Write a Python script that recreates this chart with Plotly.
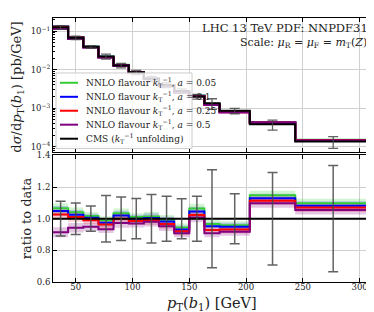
import plotly.graph_objects as go

# ---------------- data ----------------
bin_edges = [30, 43.3, 56.7, 70, 83.3, 96.7, 110, 123.3, 136.7, 150, 163.3, 176.7, 203.3, 243.3, 310]
bin_centers = [36.7, 50.0, 63.3, 76.7, 90.0, 103.3, 116.7, 130.0, 143.3, 156.7, 170.0, 190.0, 223.3, 276.7]

cms_xsec = [0.125, 0.067, 0.039, 0.022, 0.0128, 0.0085, 0.0058, 0.0040, 0.0028,
            0.0020, 0.00134, 0.00085, 0.00038, 0.000136]
cms_relerr = [0.11, 0.10, 0.08, 0.147, 0.137, 0.127, 0.153, 0.142, 0.126,
              0.142, 0.31, 0.158, 0.292, 0.336]

ratio_a005 = [1.066, 1.041, 1.017, 0.990, 1.035, 1.010, 1.014, 0.994, 0.945, 1.064, 0.967, 0.959, 1.148, 1.098]
ratio_a01  = [1.048, 1.025, 1.006, 0.975, 1.020, 1.000, 1.004, 0.982, 0.932, 1.045, 0.953, 0.949, 1.130, 1.082]
ratio_a025 = [1.026, 1.010, 0.990, 0.963, 1.000, 0.986, 0.990, 0.967, 0.920, 1.024, 0.928, 0.932, 1.114, 1.070]
ratio_a05  = [0.914, 0.943, 0.949, 0.934, 0.973, 0.969, 0.980, 0.953, 0.908, 1.008, 0.908, 0.918, 1.097, 1.055]
scale_unc  = [0.032, 0.03, 0.025, 0.025, 0.03, 0.025, 0.03, 0.03, 0.025, 0.03, 0.025, 0.025, 0.028, 0.028]

series_names = [
    "NNLO flavour <i>k</i><sub>T</sub><sup>−1</sup>, <i>a</i> = 0.05",
    "NNLO flavour <i>k</i><sub>T</sub><sup>−1</sup>, <i>a</i> = 0.1",
    "NNLO flavour <i>k</i><sub>T</sub><sup>−1</sup>, <i>a</i> = 0.25",
    "NNLO flavour <i>k</i><sub>T</sub><sup>−1</sup>, <i>a</i> = 0.5",
]
series_ratios = [ratio_a005, ratio_a01, ratio_a025, ratio_a05]
series_colors = ["#33cc33", "#0000ff", "#ff0000", "#800080"]
series_fill = ["rgba(51,204,51,0.22)", "rgba(0,0,255,0.18)", "rgba(255,0,0,0.18)", "rgba(128,0,128,0.22)"]
cms_name = "CMS (<i>k</i><sub>T</sub><sup>−1</sup> unfolding)"

FONT = "DejaVu Serif"
W, H = 374, 312
ML, MR, MT, MB = 45, 11, 5, 38


def step(vals):
    return list(vals) + [vals[-1]]


fig = go.Figure()

# ---------------- top panel ----------------
for name, rat, col in zip(series_names, series_ratios, series_colors):
    theo = [d * r for d, r in zip(cms_xsec, rat)]
    fig.add_trace(go.Scatter(x=bin_edges, y=step(theo), mode="lines", line_shape="hv",
                             line=dict(color=col, width=2.2), name=name,
                             xaxis="x", yaxis="y", showlegend=False))
fig.add_trace(go.Scatter(x=bin_edges, y=step(cms_xsec), mode="lines", line_shape="hv",
                         line=dict(color="black", width=2), name=cms_name,
                         xaxis="x", yaxis="y", showlegend=False))
fig.add_trace(go.Scatter(x=bin_centers, y=cms_xsec, mode="markers",
                         marker=dict(size=0.1, color="rgba(0,0,0,0)"),
                         error_y=dict(type="data", array=[v * e for v, e in zip(cms_xsec, cms_relerr)],
                                      color="rgba(70,70,70,0.85)", thickness=1.3, width=5),
                         xaxis="x", yaxis="y", showlegend=False))

# ---------------- ratio panel ----------------
for rat, col, fc in zip(series_ratios, series_colors, series_fill):
    lo = [r - u for r, u in zip(rat, scale_unc)]
    hi = [r + u for r, u in zip(rat, scale_unc)]
    fig.add_trace(go.Scatter(x=bin_edges, y=step(lo), mode="lines", line_shape="hv",
                             line=dict(width=0, color=fc), xaxis="x2", yaxis="y2", showlegend=False))
    fig.add_trace(go.Scatter(x=bin_edges, y=step(hi), mode="lines", line_shape="hv",
                             line=dict(width=0, color=fc), fill="tonexty", fillcolor=fc,
                             xaxis="x2", yaxis="y2", showlegend=False))
for rat, col in zip(series_ratios, series_colors):
    fig.add_trace(go.Scatter(x=bin_edges, y=step(rat), mode="lines", line_shape="hv",
                             line=dict(color=col, width=2), xaxis="x2", yaxis="y2", showlegend=False))
fig.add_trace(go.Scatter(x=[bin_edges[0], bin_edges[-1]], y=[1, 1], mode="lines",
                         line=dict(color="black", width=2), xaxis="x2", yaxis="y2", showlegend=False))
fig.add_trace(go.Scatter(x=bin_centers, y=[1] * len(bin_centers), mode="markers",
                         marker=dict(size=0.1, color="rgba(0,0,0,0)"),
                         error_y=dict(type="data", array=cms_relerr,
                                      color="rgba(70,70,70,0.85)", thickness=1.5, width=5),
                         xaxis="x2", yaxis="y2", showlegend=False))

# ---------------- layout ----------------
ph = H - MT - MB
pw = W - ML - MR
top_bottom = (H - MB - 142) / ph
bot_top = (H - MB - 145) / ph

axis_common = dict(showline=True, linecolor="black", linewidth=1, mirror="allticks",
                   ticks="inside", ticklen=4, tickcolor="black", tickwidth=1,
                   showgrid=True, gridcolor="#d0d0d0", gridwidth=1, zeroline=False,
                   tickfont=dict(family=FONT, size=8.5, color="#222"))

fig.update_layout(
    width=W, height=H, autosize=False,
    margin=dict(l=ML, r=MR, t=MT, b=MB),
    paper_bgcolor="white", plot_bgcolor="white",
    font=dict(family=FONT, color="black"),
    showlegend=False,
    xaxis=dict(axis_common, domain=[0, 1], range=[30, 310], anchor="y",
               tickvals=[50, 100, 150, 200, 250, 300], showticklabels=False),
    yaxis=dict(axis_common, domain=[top_bottom, 1], type="log", range=[-4.15, -0.66], anchor="x",
               tickvals=[1e-4, 1e-3, 1e-2, 1e-1],
               ticktext=["10<sup>−4</sup>", "10<sup>−3</sup>", "10<sup>−2</sup>", "10<sup>−1</sup>"],
               minor=dict(ticks="inside", ticklen=2, tickcolor="black", showgrid=False,
                          tickvals=[k * 10 ** e for e in range(-5, 0) for k in range(2, 10)])),
    xaxis2=dict(axis_common, domain=[0, 1], range=[30, 310], anchor="y2", matches="x",
                tickvals=[50, 100, 150, 200, 250, 300], ticklabelstandoff=-3),
    yaxis2=dict(axis_common, domain=[0, bot_top], range=[0.6, 1.4], anchor="x2",
                tickvals=[0.6, 0.8, 1.0, 1.2, 1.4], ticktext=["0.6", "0.8", "1.0", "1.2", "1.4"]),
)


def px_x(p):
    return (p - ML) / pw


def px_y(p):
    return (H - MB - p) / ph


# ---------------- legend (drawn by hand for compact rows) ----------------
legend_labels = series_names + [cms_name]
legend_colors = series_colors + ["black"]
row_y = [71, 85.3, 99.5, 113.7, 128]
shapes = [dict(type="rect", xref="paper", yref="paper", layer="above",
               x0=px_x(48), x1=px_x(184), y0=px_y(138), y1=px_y(61),
               fillcolor="rgba(255,255,255,0.82)", line=dict(color="#cccccc", width=1))]
annotations = []
for lab, col, yy in zip(legend_labels, legend_colors, row_y):
    shapes.append(dict(type="line", xref="paper", yref="paper", layer="above",
                       x0=px_x(52), x1=px_x(70), y0=px_y(yy), y1=px_y(yy),
                       line=dict(color=col, width=2)))
    annotations.append(dict(text=lab, x=px_x(76), y=px_y(yy), xanchor="left", yanchor="middle",
                            font=dict(family=FONT, size=9, color="#222")))

annotations += [
    dict(text="LHC 13 TeV PDF: NNPDF31", x=px_x(362), y=px_y(15), xanchor="right", yanchor="middle",
         font=dict(family=FONT, size=11.5, color="#222")),
    dict(text="Scale: <i>μ</i><sub>R</sub> = <i>μ</i><sub>F</sub> = <i>m</i><sub>T</sub>(<i>Z</i>)",
         x=px_x(361), y=px_y(30), xanchor="right", yanchor="middle",
         font=dict(family=FONT, size=11, color="#222")),
    dict(text="d<i>σ</i>/d<i>p</i><sub>T</sub>(<i>b</i><sub>1</sub>) [pb/GeV]", textangle=-90,
         x=px_x(10), y=px_y(76), xanchor="center", yanchor="middle",
         font=dict(family=FONT, size=13, color="#222")),
    dict(text="ratio to data", textangle=-90,
         x=px_x(18), y=px_y(209), xanchor="center", yanchor="middle",
         font=dict(family=FONT, size=13, color="#222")),
    dict(text="<i>p</i><sub>T</sub>(<i>b</i><sub>1</sub>) [GeV]",
         x=px_x(204), y=px_y(296), xanchor="center", yanchor="middle",
         font=dict(family=FONT, size=14.5, color="#222")),
]
for a in annotations:
    a.update(xref="paper", yref="paper", showarrow=False)
fig.update_layout(annotations=annotations, shapes=shapes)

fig.write_html("out.html")
